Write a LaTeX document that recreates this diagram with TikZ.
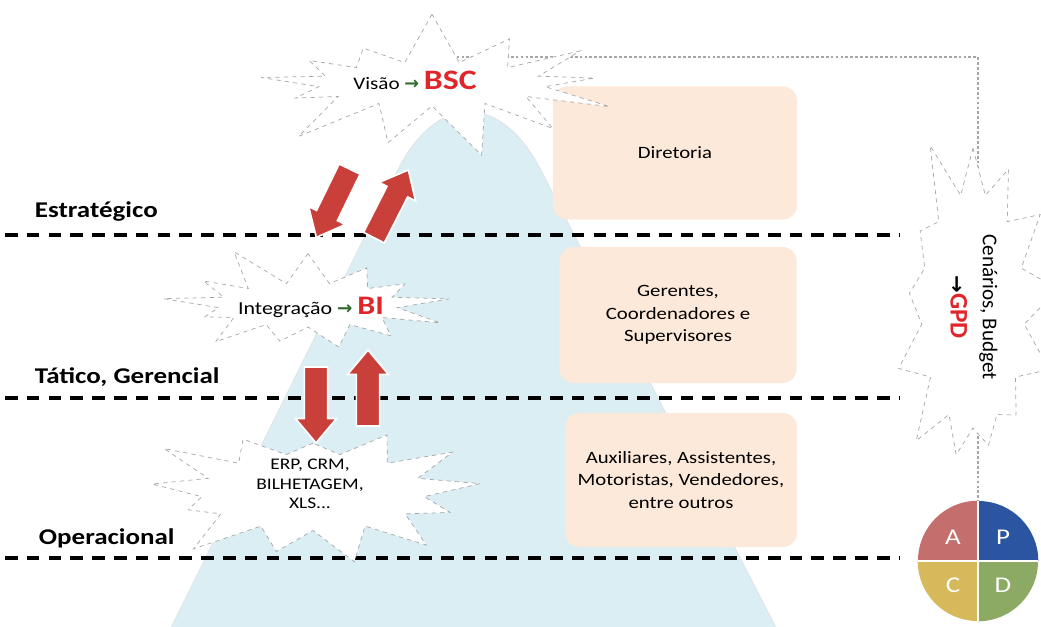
\documentclass[tikz,border=0pt]{standalone}
\usepackage{fontspec}
\setmainfont{Carlito}[FakeStretch=1.2]
\newfontfamily\plainfont{Carlito}
\newfontfamily\symfont{DejaVu Sans}
\usetikzlibrary{shapes.symbols,shapes.arrows,positioning}
\pgfdeclarelayer{background}
\pgfsetlayers{background,main}

\definecolor{mountain}{HTML}{DAEEF3}
\definecolor{peach}{HTML}{FDE9D9}
\definecolor{burstred}{HTML}{E0262B}
\definecolor{arrowred}{HTML}{C9403A}
\definecolor{arrowgreen}{HTML}{2F6B2A}
\definecolor{pdcaA}{HTML}{C56E6E}
\definecolor{pdcaP}{HTML}{2B55A0}
\definecolor{pdcaC}{HTML}{D6B95A}
\definecolor{pdcaD}{HTML}{8DAA64}

\newcommand{\goesto}{{\symfont\bfseries\color{arrowgreen}→}}

\begin{document}
\begin{tikzpicture}[x=0.025cm, y=-0.025cm,
    every node/.style={font=\fontsize{12.3}{16}\selectfont},
    levelline/.style={line width=2.8pt, dash pattern=on 9pt off 6.5pt},
    levellabel/.style={anchor=west, font=\fontsize{16}{19}\selectfont\bfseries},
    rolebox/.style={fill=peach, rounded corners=10pt, align=center},
    burst/.style={starburst, draw=gray!70, dashed, fill=white, line width=0.5pt,
        inner sep=0pt, starburst points=13},
    blockarrow/.style={single arrow, fill=arrowred, draw=white, line width=1.2pt,
        inner xsep=0pt, inner ysep=0.27cm, minimum height=1.9cm,
        single arrow head extend=0.22cm, single arrow tip angle=80},
    link/.style={draw=gray!70, line width=0.8pt, dash pattern=on 2pt off 1.5pt},
    pdcaletter/.style={text=white, font=\fontsize{16}{18}\selectfont}
]
\useasboundingbox (0,0) rectangle (1041,626);

% ---- Caixas de cargos ----
\node[rolebox, minimum width=6.1cm, minimum height=3.33cm] (diretoria) at (675,153) {Diretoria};
\node[rolebox, minimum width=5.93cm, minimum height=3.4cm] (gerentes) at (678,315)
    {Gerentes,\\Coordenadores e\\Supervisores};
\node[rolebox, minimum width=5.8cm, minimum height=3.35cm] (auxiliares) at (681,480)
    {Auxiliares, Assistentes,\\Motoristas, Vendedores,\\entre outros};

% ---- Niveis ----
\foreach \y in {235,398,558}
  \draw[levelline] (5,\y) -- (900,\y);
\node[levellabel] (estrategico) at (30,212) {Estratégico};
\node[levellabel] (tatico) at (30,377) {Tático, Gerencial};
\node[levellabel] (operacional) at (34,538) {Operacional};

% ---- Estrelas ----
\node[burst, random starburst=7, starburst point height=2.4cm, yscale=0.55,
      minimum width=10.5cm, minimum height=6.8cm] (bsc) at (432,84) {};
\node[font=\fontsize{12.5}{15}\selectfont] (bsctext) at (415,80)
    {Visão \goesto\ {\fontsize{20}{22}\selectfont\bfseries\color{burstred}BSC}};

\node[burst, random starburst=11, starburst point height=1.8cm, yscale=0.55,
      minimum width=8.1cm, minimum height=5.6cm] (bi) at (308,305) {};
\node[font=\fontsize{13}{15}\selectfont] (bitext) at (311,307)
    {Integração \goesto\ {\fontsize{19}{20}\selectfont\bfseries\color{burstred}BI}};

\node[burst, random starburst=23, starburst point height=1.8cm, yscale=0.55,
      minimum width=9.2cm, minimum height=7.1cm] (erp) at (313,492) {};
\node[align=center, font=\fontsize{11.5}{14}\selectfont] (erptext) at (310,484)
    {ERP, CRM,\\BILHETAGEM,\\XLS...};

\node[burst, random starburst=5, starburst point height=1.8cm, xscale=0.6,
      minimum width=7.9cm, minimum height=9.5cm] (gpd) at (973,310) {};
\node[rotate=-90, align=center, font=\plainfont\fontsize{15}{23}\selectfont] (gpdtext) at (974,307)
    {Cenários, Budget\\{\symfont\bfseries→}{\fontsize{18}{20}\selectfont\bfseries\color{burstred}GPD}};

% ---- Setas ----
\node[blockarrow, rotate=244] (bsc2bi) at (336,197) {};
\node[blockarrow, rotate=63] (bi2bsc) at (388,210) {};
\node[blockarrow, rotate=270] (bi2erp) at (316,398) {};
\node[blockarrow, rotate=90] (erp2bi) at (368,395) {};

% ---- PDCA ----
\node[circle, minimum size=3cm, inner sep=0pt] (pdca) at (978,561) {};
\fill[pdcaA] (pdca.center) -- (pdca.north) arc[start angle=90, end angle=180, radius=1.5cm] -- cycle;
\fill[pdcaP] (pdca.center) -- (pdca.east) arc[start angle=0, end angle=90, radius=1.5cm] -- cycle;
\fill[pdcaC] (pdca.center) -- (pdca.west) arc[start angle=180, end angle=270, radius=1.5cm] -- cycle;
\fill[pdcaD] (pdca.center) -- (pdca.south) arc[start angle=270, end angle=360, radius=1.5cm] -- cycle;
\draw[white, line width=1.5pt] (pdca.north) -- (pdca.south);
\draw[white, line width=1.5pt] (pdca.west) -- (pdca.east);
\node[pdcaletter] (la) at (953,537) {A};
\node[pdcaletter] (lp) at (1003,537) {P};
\node[pdcaletter] (lc) at (953,585) {C};
\node[pdcaletter] (ld) at (1003,585) {D};

% ---- Fundo: montanha e ligacao ----
\begin{pgfonlayer}{background}
  \fill[mountain, draw=gray!25, rounded corners=4cm] (36,900) -- (468,28) -- (916,900) -- cycle;
  \coordinate (corner) at (978,57);
  \draw[link] (bsc.center |- corner) -- (corner) -- (pdca.north);
\end{pgfonlayer}

\end{tikzpicture}
\end{document}
